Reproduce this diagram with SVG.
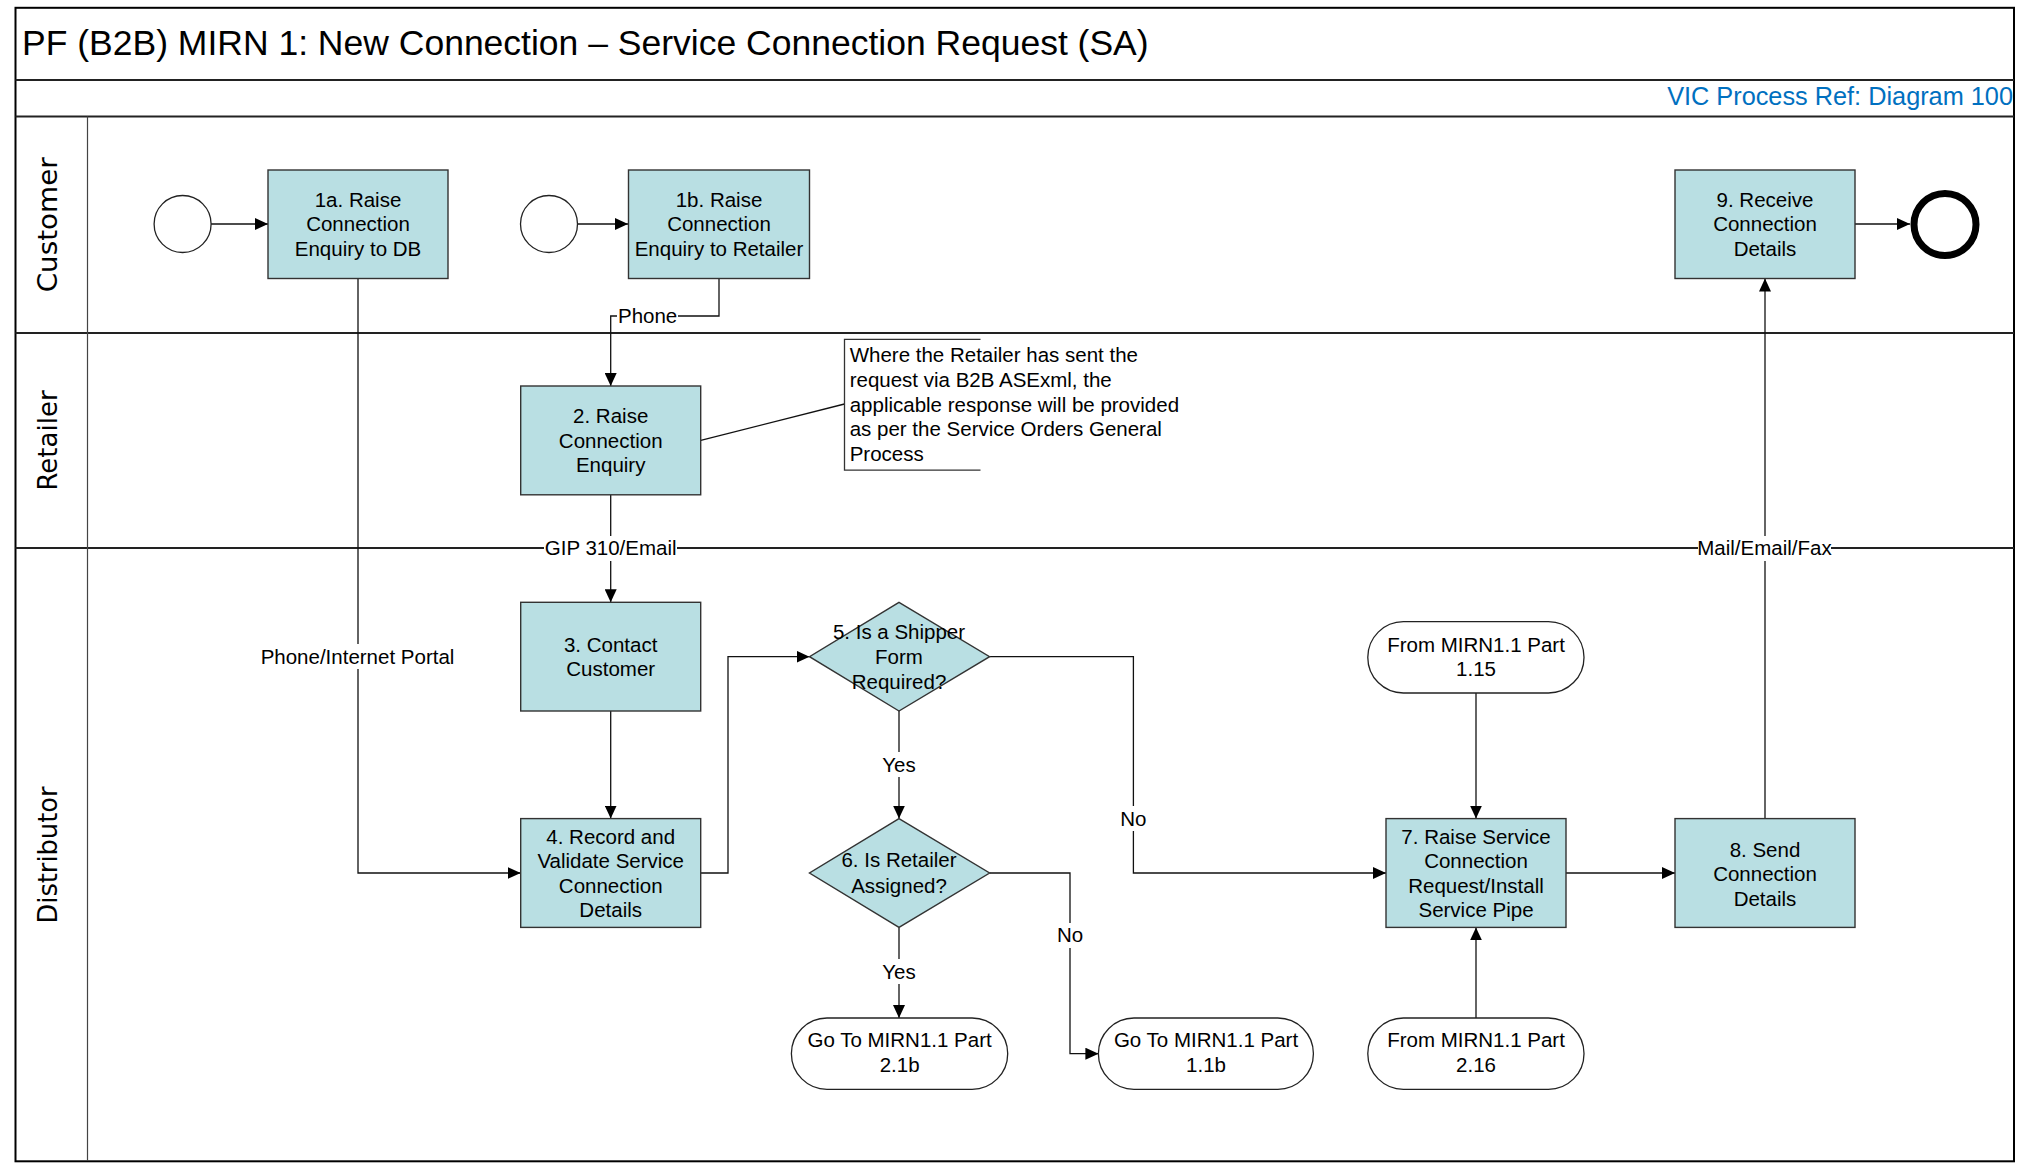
<svg xmlns="http://www.w3.org/2000/svg" width="2031" height="1163" viewBox="0 0 2031 1163">
<defs>
<marker id="arr" markerUnits="userSpaceOnUse" markerWidth="13" markerHeight="12" refX="13" refY="6" orient="auto">
<path d="M0,0 L13,6 L0,12 z" fill="#000"/>
</marker>
<style>
.frame{fill:none;stroke:#000;stroke-width:2}
.lane{stroke:#222;stroke-width:2}
.thin{stroke:#444;stroke-width:1.2}
.box{fill:#B9DFE3;stroke:#333;stroke-width:1.4}
.term{fill:#fff;stroke:#222;stroke-width:1.3}
.start{fill:#fff;stroke:#222;stroke-width:1.3}
.t{font-family:"Liberation Sans",Arial,sans-serif;font-size:20.5px;fill:#000;text-anchor:middle}
.tl{font-family:"Liberation Sans",Arial,sans-serif;font-size:20.5px;fill:#000}
.lanet{font-family:"DejaVu Sans",Verdana,sans-serif;font-size:26px;fill:#000;text-anchor:middle}
.c{fill:none;stroke:#111;stroke-width:1.3;marker-end:url(#arr)}
.cn{fill:none;stroke:#111;stroke-width:1.3}
.bg{fill:#fff}
</style>
</defs>

<g id="frame">
<rect class="frame" x="15.5" y="7.8" width="1998.5" height="1153.5"/>
<line class="lane" x1="15.5" y1="80" x2="2014" y2="80"/>
<line class="lane" x1="15.5" y1="116.6" x2="2014" y2="116.6"/>
<line class="lane" x1="15.5" y1="333" x2="2014" y2="333"/>
<line class="lane" x1="15.5" y1="548" x2="2014" y2="548"/>
<line class="thin" x1="87.5" y1="116.6" x2="87.5" y2="1161"/>
<text x="22" y="55" style="font-family:'Liberation Sans',Arial,sans-serif;font-size:35.5px;fill:#000">PF (B2B) MIRN 1: New Connection – Service Connection Request (SA)</text>
<text x="2013" y="105" text-anchor="end" style="font-family:'Liberation Sans',Arial,sans-serif;font-size:25.3px;fill:#0070C0">VIC Process Ref: Diagram 100</text>
<text class="lanet" transform="translate(57,224.8) rotate(-90)" textLength="135" lengthAdjust="spacingAndGlyphs">Customer</text>
<text class="lanet" transform="translate(57,440.5) rotate(-90)">Retailer</text>
<text class="lanet" transform="translate(57,855) rotate(-90)" textLength="137" lengthAdjust="spacingAndGlyphs">Distributor</text>
</g>

<g id="connectors">
<line class="c" x1="211" y1="224" x2="268" y2="224"/>
<line class="c" x1="577.5" y1="224" x2="628" y2="224"/>
<polyline class="c" points="719,278.5 719,316 610.7,316 610.7,386"/>
<polyline class="c" points="358,278.5 358,873 520.7,873"/>
<line class="c" x1="610.7" y1="494.8" x2="610.7" y2="602.3"/>
<line class="c" x1="610.7" y1="711" x2="610.7" y2="818.6"/>
<polyline class="c" points="700.8,873 728,873 728,656.7 809.5,656.7"/>
<line class="c" x1="899" y1="711" x2="899" y2="818.6"/>
<polyline class="c" points="989.6,656.7 1133.4,656.7 1133.4,873 1386,873"/>
<line class="c" x1="899" y1="927.4" x2="899" y2="1018"/>
<polyline class="c" points="989.6,873 1070,873 1070,1053.7 1098.4,1053.7"/>
<line class="c" x1="1476" y1="693" x2="1476" y2="818.6"/>
<line class="c" x1="1476" y1="1018" x2="1476" y2="927.4"/>
<line class="c" x1="1566" y1="873" x2="1675" y2="873"/>
<line class="c" x1="1765" y1="818.6" x2="1765" y2="278.5"/>
<line class="c" x1="1855" y1="224" x2="1910" y2="224"/>
<line class="cn" x1="700.8" y1="440.4" x2="844.5" y2="404"/>

<rect class="bg" x="617" y="304" width="61" height="24"/>
<text class="t" x="647.6" y="323.4">Phone</text>
<rect class="bg" x="262" y="644" width="191" height="25"/>
<text class="t" x="357.5" y="664.1">Phone/Internet Portal</text>
<rect class="bg" x="544" y="536" width="133" height="25"/>
<text class="t" x="610.7" y="555.4">GIP 310/Email</text>
<rect class="bg" x="1698" y="536" width="133" height="25"/>
<text class="t" x="1764.5" y="555.4">Mail/Email/Fax</text>
<rect class="bg" x="880" y="752" width="38" height="25"/>
<text class="t" x="899" y="771.6">Yes</text>
<rect class="bg" x="880" y="959" width="38" height="25"/>
<text class="t" x="899" y="978.9">Yes</text>
<rect class="bg" x="1119" y="806" width="29" height="25"/>
<text class="t" x="1133.4" y="826">No</text>
<rect class="bg" x="1056" y="923" width="29" height="25"/>
<text class="t" x="1070" y="942.4">No</text>
</g>

<g id="start1"><ellipse class="start" cx="182.6" cy="224" rx="28.5" ry="28.5"/></g>
<g id="start2"><ellipse class="start" cx="549" cy="224" rx="28.5" ry="28.5"/></g>
<g id="end"><circle cx="1945" cy="224.5" r="31" fill="#fff" stroke="#000" stroke-width="7"/></g>

<g id="n1a"><rect class="box" x="268" y="170" width="180" height="108.5"/>
<text class="t" x="358" y="206.9">1a. Raise</text><text class="t" x="358" y="231.4">Connection</text><text class="t" x="358" y="256">Enquiry to DB</text></g>

<g id="n1b"><rect class="box" x="628.5" y="170" width="181" height="108.5"/>
<text class="t" x="719" y="206.9">1b. Raise</text><text class="t" x="719" y="231.4">Connection</text><text class="t" x="719" y="256">Enquiry to Retailer</text></g>

<g id="n9"><rect class="box" x="1675" y="170" width="180" height="108.5"/>
<text class="t" x="1765" y="206.9">9. Receive</text><text class="t" x="1765" y="231.4">Connection</text><text class="t" x="1765" y="256">Details</text></g>

<g id="n2"><rect class="box" x="520.7" y="386" width="180" height="108.8"/>
<text class="t" x="610.7" y="423.2">2. Raise</text><text class="t" x="610.7" y="447.8">Connection</text><text class="t" x="610.7" y="472.3">Enquiry</text></g>

<g id="note">
<polyline fill="none" stroke="#333" stroke-width="1.3" points="980.5,339.4 844.5,339.4 844.5,470.2 980.5,470.2"/>
<text class="tl" x="849.7" y="362.4">Where the Retailer has sent the</text>
<text class="tl" x="849.7" y="386.9">request via B2B ASExml, the</text>
<text class="tl" x="849.7" y="411.5">applicable response will be provided</text>
<text class="tl" x="849.7" y="436.1">as per the Service Orders General</text>
<text class="tl" x="849.7" y="460.7">Process</text>
</g>

<g id="n3"><rect class="box" x="520.7" y="602.3" width="180" height="108.7"/>
<text class="t" x="610.7" y="651.8">3. Contact</text><text class="t" x="610.7" y="676.4">Customer</text></g>

<g id="n4"><rect class="box" x="520.7" y="818.6" width="180" height="108.8"/>
<text class="t" x="610.7" y="843.7">4. Record and</text><text class="t" x="610.7" y="868.2">Validate Service</text><text class="t" x="610.7" y="892.7">Connection</text><text class="t" x="610.7" y="917.2">Details</text></g>

<g id="d5"><polygon class="box" points="899,602.3 989.6,656.7 899,711 809.5,656.7"/>
<text class="t" x="899" y="639.4">5. Is a Shipper</text><text class="t" x="899" y="664.1">Form</text><text class="t" x="899" y="688.7">Required?</text></g>

<g id="d6"><polygon class="box" points="899,818.6 989.6,873 899,927.4 809.5,873"/>
<text class="t" x="899" y="867.4">6. Is Retailer</text><text class="t" x="899" y="892.6">Assigned?</text></g>

<g id="t21b"><rect class="term" x="791.4" y="1018" width="216.3" height="71.3" rx="35.6" ry="35.6"/>
<text class="t" x="899.6" y="1047.4">Go To MIRN1.1 Part</text><text class="t" x="899.6" y="1072">2.1b</text></g>

<g id="t11b"><rect class="term" x="1098.4" y="1018" width="215" height="71.3" rx="35.6" ry="35.6"/>
<text class="t" x="1206" y="1047.4">Go To MIRN1.1 Part</text><text class="t" x="1206" y="1072">1.1b</text></g>

<g id="t115"><rect class="term" x="1367.8" y="621.7" width="216.2" height="71.3" rx="35.6" ry="35.6"/>
<text class="t" x="1476" y="651.8">From MIRN1.1 Part</text><text class="t" x="1476" y="676.4">1.15</text></g>

<g id="t216"><rect class="term" x="1367.8" y="1018" width="216.2" height="71.3" rx="35.6" ry="35.6"/>
<text class="t" x="1476" y="1047.4">From MIRN1.1 Part</text><text class="t" x="1476" y="1072">2.16</text></g>

<g id="n7"><rect class="box" x="1386" y="818.6" width="180" height="108.8"/>
<text class="t" x="1476" y="843.7">7. Raise Service</text><text class="t" x="1476" y="868.2">Connection</text><text class="t" x="1476" y="892.7">Request/Install</text><text class="t" x="1476" y="917.2">Service Pipe</text></g>

<g id="n8"><rect class="box" x="1675" y="818.6" width="180" height="108.8"/>
<text class="t" x="1765" y="856.5">8. Send</text><text class="t" x="1765" y="881">Connection</text><text class="t" x="1765" y="905.6">Details</text></g>
</svg>
